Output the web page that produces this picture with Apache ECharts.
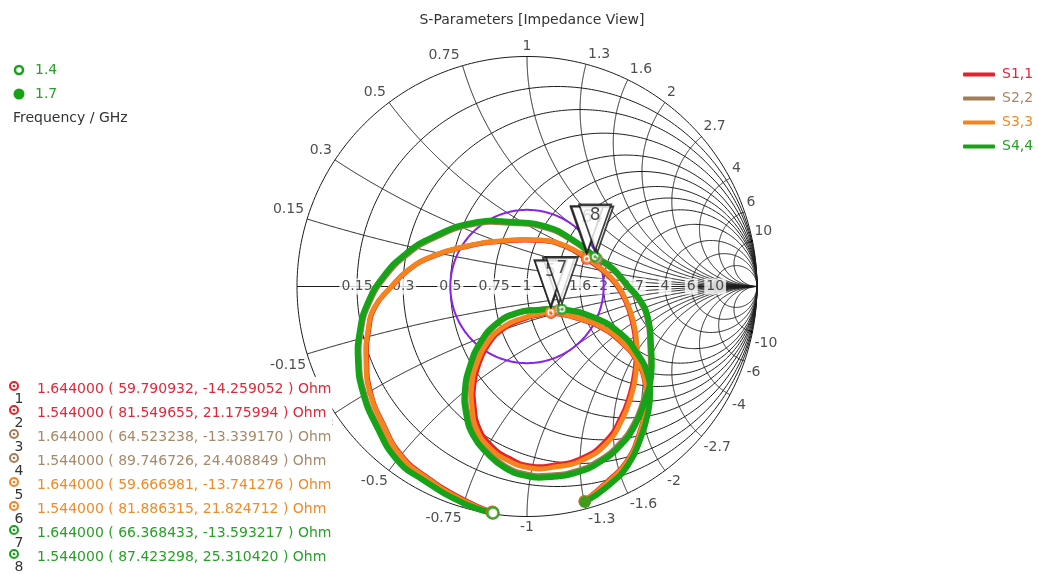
<!DOCTYPE html>
<html>
<head>
<meta charset="utf-8">
<script src="https://cdn.jsdelivr.net/npm/echarts/dist/echarts.min.js"></script>
<style>
  html, body { margin: 0; padding: 0; background: #ffffff; }
  #chart { width: 1038px; height: 574px; }
</style>
</head>
<body>
<div id="chart"></div>
<script>
// ---- Smith chart of port reflections, 1.4 – 1.7 GHz ----
const FONT = 'DejaVu Sans';
const Z0 = 50;

const SERIES_NAMES = ['S1,1', 'S2,2', 'S3,3', 'S4,4'];
const SERIES_COLORS = ['#e8202a', '#a57d55', '#f5841f', '#17a317'];
const TEXT_COLORS = ['#e0283a', '#a88868', '#f08a2a', '#28a028'];
const TRACE_WIDTHS = [5, 6, 5, 6];

// normalised resistance circles and reactance arcs of the chart grid
const R_CIRCLES = [0.15, 0.3, 0.5, 0.75, 1, 1.3, 1.6, 2, 2.7, 4, 6, 10];
const X_ARCS = [0.15, 0.3, 0.5, 0.75, 1, 1.3, 1.6, 2, 2.7, 4, 6, 10];
const VSWR = 2;

const FREQ_START = 1.4;   // GHz, first sample (open dot)
const FREQ_END = 1.7;     // GHz, last sample (filled dot)

// reflection coefficients (real / imaginary), sweep 1.4 -> 1.7 GHz
const S11_RE = [-0.151,-0.280,-0.441,-0.546,-0.624,-0.680,-0.697,-0.688,-0.662,-0.594,-0.515,-0.407,-0.259,-0.116,0.057,0.168,0.259,0.327,0.384,0.427,0.457,0.473,0.469,0.446,0.407,0.342,0.240,0.120,0.013,-0.080,-0.157,-0.208,-0.230,-0.230,-0.208,-0.166,-0.098,-0.014,0.053,0.104,0.220,0.328,0.415,0.476,0.511,0.515,0.489,0.433,0.346,0.250];
const S11_IM = [-0.982,-0.925,-0.825,-0.734,-0.600,-0.461,-0.318,-0.188,-0.092,-0.006,0.072,0.132,0.175,0.196,0.200,0.174,0.119,0.070,0.013,-0.060,-0.147,-0.254,-0.370,-0.476,-0.574,-0.673,-0.746,-0.776,-0.780,-0.746,-0.690,-0.618,-0.520,-0.418,-0.333,-0.248,-0.180,-0.141,-0.123,-0.116,-0.139,-0.182,-0.248,-0.321,-0.408,-0.515,-0.636,-0.761,-0.851,-0.933];

const S22_RE = [-0.149,-0.279,-0.450,-0.562,-0.648,-0.709,-0.731,-0.722,-0.692,-0.622,-0.519,-0.407,-0.234,-0.061,0.086,0.200,0.306,0.372,0.436,0.490,0.524,0.536,0.535,0.509,0.466,0.400,0.314,0.220,0.099,0.000,-0.094,-0.170,-0.230,-0.260,-0.265,-0.243,-0.200,-0.127,-0.041,0.046,0.139,0.282,0.400,0.475,0.519,0.532,0.523,0.493,0.436,0.350,0.251];
const S22_IM = [-0.984,-0.939,-0.839,-0.751,-0.609,-0.462,-0.320,-0.190,-0.082,0.038,0.142,0.211,0.272,0.276,0.255,0.199,0.121,0.075,0.003,-0.062,-0.139,-0.255,-0.397,-0.490,-0.598,-0.688,-0.758,-0.802,-0.822,-0.818,-0.783,-0.719,-0.642,-0.547,-0.448,-0.345,-0.246,-0.160,-0.115,-0.102,-0.100,-0.133,-0.202,-0.288,-0.375,-0.462,-0.549,-0.652,-0.774,-0.865,-0.936];

const S33_RE = [-0.150,-0.283,-0.443,-0.548,-0.626,-0.683,-0.700,-0.691,-0.665,-0.596,-0.517,-0.409,-0.261,-0.117,0.057,0.170,0.262,0.330,0.387,0.430,0.461,0.478,0.474,0.452,0.413,0.348,0.243,0.122,0.013,-0.087,-0.165,-0.217,-0.239,-0.239,-0.217,-0.174,-0.104,-0.017,0.052,0.102,0.222,0.330,0.417,0.478,0.513,0.517,0.491,0.435,0.348,0.250];
const S33_IM = [-0.983,-0.928,-0.828,-0.737,-0.602,-0.463,-0.320,-0.189,-0.093,-0.007,0.072,0.133,0.176,0.198,0.202,0.176,0.122,0.072,0.015,-0.059,-0.146,-0.254,-0.372,-0.480,-0.580,-0.680,-0.754,-0.785,-0.789,-0.754,-0.698,-0.624,-0.524,-0.420,-0.333,-0.246,-0.176,-0.137,-0.120,-0.113,-0.137,-0.180,-0.246,-0.320,-0.407,-0.515,-0.637,-0.763,-0.854,-0.934];

const S44_RE = [-0.148,-0.278,-0.452,-0.565,-0.652,-0.713,-0.735,-0.726,-0.696,-0.626,-0.522,-0.409,-0.235,-0.061,0.087,0.200,0.296,0.370,0.435,0.491,0.526,0.539,0.539,0.513,0.470,0.404,0.317,0.222,0.100,0.000,-0.096,-0.174,-0.235,-0.265,-0.270,-0.248,-0.204,-0.130,-0.043,0.048,0.152,0.287,0.404,0.478,0.522,0.535,0.526,0.496,0.439,0.352,0.252];
const S44_IM = [-0.985,-0.941,-0.841,-0.754,-0.611,-0.463,-0.320,-0.189,-0.080,0.041,0.146,0.215,0.276,0.280,0.259,0.202,0.130,0.080,0.007,-0.059,-0.137,-0.254,-0.398,-0.493,-0.602,-0.693,-0.763,-0.807,-0.828,-0.824,-0.789,-0.724,-0.646,-0.550,-0.450,-0.346,-0.246,-0.159,-0.115,-0.102,-0.099,-0.133,-0.202,-0.289,-0.376,-0.463,-0.550,-0.654,-0.776,-0.867,-0.937];

const CURVES_RE = [S11_RE, S22_RE, S33_RE, S44_RE];
const CURVES_IM = [S11_IM, S22_IM, S33_IM, S44_IM];

// markers: number, owning trace, frequency (GHz), impedance R + jX (Ohm)
const MARKER_NO = [1, 2, 3, 4, 5, 6, 7, 8];
const MARKER_TRACE = [0, 0, 1, 1, 2, 2, 3, 3];
const MARKER_FREQ = [1.644, 1.544, 1.644, 1.544, 1.644, 1.544, 1.644, 1.544];
const MARKER_R = [59.790932, 81.549655, 64.523238, 89.746726, 59.666981, 81.886315, 66.368433, 87.423298];
const MARKER_X = [-14.259052, 21.175994, -13.339170, 24.408849, -13.741276, 21.824712, -13.593217, 25.310420];

// ---------- helpers ----------
// normalised impedance r + jx -> reflection coefficient
function gammaOf(r, x) {
  const d = (r + 1) * (r + 1) + x * x;
  return [(r * r + x * x - 1) / d, (2 * x) / d];
}
function circlePts(cx, cy, rad) {
  const pts = [];
  for (let k = 0; k <= 360; k++) {
    const a = (k / 360) * Math.PI * 2;
    pts.push([cx + rad * Math.cos(a), cy + rad * Math.sin(a)]);
  }
  return pts;
}
function reactancePts(x) {
  const pts = [];
  const N = 500;
  for (let k = 0; k < N; k++) {
    const t = k / N;
    pts.push(gammaOf(t / (1 - t), x));
  }
  pts.push([1, 0]);
  return pts;
}
function markerGamma(i) {
  return gammaOf(MARKER_R[i] / Z0, MARKER_X[i] / Z0);
}

// ---------- grid geometry ----------
const gridLines = [];
gridLines.push({ coords: circlePts(0, 0, 1) });
gridLines.push({ coords: [[-1, 0], [1, 0]] });
R_CIRCLES.forEach(r => gridLines.push({ coords: circlePts(r / (1 + r), 0, 1 / (1 + r)) }));
X_ARCS.forEach(x => {
  gridLines.push({ coords: reactancePts(x) });
  gridLines.push({ coords: reactancePts(-x) });
});

const labelBase = { show: true, color: '#222', fontFamily: FONT, fontSize: 14 };

const rLabelData = R_CIRCLES.map(r => ({
  value: gammaOf(r, 0),
  label: Object.assign({}, labelBase, {
    formatter: String(r), position: 'inside', align: 'center', verticalAlign: 'middle',
    backgroundColor: '#ffffff', padding: [1, 2]
  })
}));

const xLabelData = [];
X_ARCS.forEach(x => {
  [x, -x].forEach(xv => {
    const g = gammaOf(0, xv);
    let align = 'center', dx = 0;
    if (g[0] < -0.01) { align = 'right'; dx = xv > 0 ? -3 : -1; }
    else if (g[0] > 0.01) { align = 'left'; dx = 2; }
    xLabelData.push({
      value: g,
      label: Object.assign({}, labelBase, {
        formatter: String(xv), position: 'inside', align: align,
        verticalAlign: xv > 0 ? 'bottom' : 'top',
        offset: [dx, xv > 0 ? -3 : 4]
      })
    });
  });
});

const vswrRad = (VSWR - 1) / (VSWR + 1);

const series = [];
series.push({
  type: 'lines', coordinateSystem: 'cartesian2d', polyline: true, silent: true,
  data: gridLines, lineStyle: { color: '#1c1c1c', width: 1, opacity: 1 }, z: 1
});
series.push({
  type: 'scatter', name: 'r-labels', symbolSize: 0, silent: true, data: rLabelData, z: 2
});
series.push({
  type: 'scatter', name: 'x-labels', symbolSize: 0, silent: true, data: xLabelData, z: 2
});
series.push({
  type: 'lines', coordinateSystem: 'cartesian2d', polyline: true, silent: true,
  data: [{ coords: circlePts(0, 0, vswrRad) }],
  lineStyle: { color: '#8a22e6', width: 2, opacity: 1 }, z: 3
});
// each trace: one smooth path through its samples, placed by the cartesian axes
SERIES_NAMES.forEach((name, s) => {
  const pts = CURVES_RE[s].map((re, k) => [re, CURVES_IM[s][k]]);
  series.push({
    type: 'custom', name: name, coordinateSystem: 'cartesian2d', silent: true,
    itemStyle: { color: SERIES_COLORS[s] },
    data: [pts[0]],
    renderItem: (params, api) => ({
      type: 'polyline',
      shape: { points: pts.map(p => api.coord(p)), smooth: 0.5 },
      style: { stroke: SERIES_COLORS[s], lineWidth: TRACE_WIDTHS[s], fill: null, lineJoin: 'round', lineCap: 'round' }
    }),
    z: 4 + s * 0.01
  });
});
// sweep start (open) and stop (filled) dots
SERIES_NAMES.forEach((name, s) => {
  const n = CURVES_RE[s].length;
  series.push({
    type: 'scatter', name: name + ' ends', silent: true, z: 5 + s * 0.01,
    data: [
      { value: [CURVES_RE[s][0], CURVES_IM[s][0]], symbolSize: 11,
        itemStyle: { color: '#ffffff', borderColor: SERIES_COLORS[s], borderWidth: 2.5 } },
      { value: [CURVES_RE[s][n - 1], CURVES_IM[s][n - 1]], symbolSize: 12,
        itemStyle: { color: SERIES_COLORS[s] } }
    ]
  });
});
// marker rings
series.push({
  type: 'scatter', name: 'marker rings', silent: true, z: 6,
  data: MARKER_NO.map((no, i) => ({
    value: markerGamma(i), symbolSize: 9,
    itemStyle: { color: '#ffffff', borderColor: SERIES_COLORS[MARKER_TRACE[i]], borderWidth: 2.5 }
  }))
});
series.push({
  type: 'scatter', name: 'marker dots', silent: true, z: 6.5, symbolSize: 3,
  data: MARKER_NO.map((no, i) => ({
    value: markerGamma(i), itemStyle: { color: SERIES_COLORS[MARKER_TRACE[i]] }
  }))
});
// numbered flags above the markers, each one stacked over the previous
MARKER_NO.forEach((no, i) => {
  series.push({
    type: 'scatter', name: 'flag ' + no, silent: true, z: 10 + i,
    symbol: 'path://M0,0 L32,0 L16,46 Z', symbolSize: [32, 46], symbolOffset: [0, -29],
    itemStyle: { color: '#ffffff', borderColor: '#111111', borderWidth: 2 },
    label: {
      show: true, position: 'inside', color: '#222', fontFamily: FONT, fontSize: 17,
      offset: [0, -12], formatter: String(no)
    },
    data: [{ value: markerGamma(i) }]
  });
});

// ---------- side texts ----------
const graphics = [];
const green = SERIES_COLORS[3];
graphics.push({ type: 'circle', shape: { cx: 19, cy: 70, r: 4 }, style: { fill: '#fff', stroke: green, lineWidth: 2.5 }, z: 30 });
graphics.push({ type: 'text', x: 35, y: 70, style: { text: String(FREQ_START), fill: TEXT_COLORS[3], font: '14px ' + FONT, verticalAlign: 'middle' }, z: 30 });
graphics.push({ type: 'circle', shape: { cx: 19, cy: 94, r: 5.5 }, style: { fill: green }, z: 30 });
graphics.push({ type: 'text', x: 35, y: 94, style: { text: String(FREQ_END), fill: TEXT_COLORS[3], font: '14px ' + FONT, verticalAlign: 'middle' }, z: 30 });
graphics.push({ type: 'text', x: 13, y: 118, style: { text: 'Frequency / GHz', fill: '#333', font: '14px ' + FONT, verticalAlign: 'middle' }, z: 30 });

MARKER_NO.forEach((no, i) => {
  const y = 389 + 24 * i;
  const c = SERIES_COLORS[MARKER_TRACE[i]];
  const tc = TEXT_COLORS[MARKER_TRACE[i]];
  const txt = MARKER_FREQ[i].toFixed(6) + ' ( ' + MARKER_R[i].toFixed(6) + ', ' + MARKER_X[i].toFixed(6) + ' ) Ohm';
  graphics.push({
    type: 'text', x: 37, y: y,
    style: { text: txt, fill: tc, font: '14px ' + FONT, verticalAlign: 'middle', lineHeight: 24,
             backgroundColor: '#ffffff', padding: [0, 6, 0, 0] },
    z: 30
  });
  graphics.push({ type: 'circle', shape: { cx: 14, cy: y - 3, r: 4 }, style: { fill: '#fff', stroke: c, lineWidth: 2 }, z: 31 });
  graphics.push({ type: 'circle', shape: { cx: 14, cy: y - 3, r: 1.3 }, style: { fill: c }, z: 31 });
  graphics.push({ type: 'text', x: 19, y: y + 10, style: { text: String(no), fill: '#333', font: '14px ' + FONT, align: 'center', verticalAlign: 'middle' }, z: 31 });
});

const chart = echarts.init(document.getElementById('chart'), null, { renderer: 'canvas' });
chart.setOption({
  backgroundColor: '#ffffff',
  animation: false,
  title: {
    text: 'S-Parameters [Impedance View]', left: 527, top: 8, textAlign: 'center',
    textStyle: { fontFamily: FONT, fontSize: 14, fontWeight: 'normal', color: '#333' }
  },
  legend: {
    orient: 'vertical', left: 958, top: 61, itemWidth: 32, itemHeight: 4, itemGap: 7,
    icon: 'roundRect',
    textStyle: { fontFamily: FONT, fontSize: 14, lineHeight: 17, padding: [0, 0, 0, 2] },
    data: SERIES_NAMES.map((n, s) => ({ name: n, textStyle: { color: TEXT_COLORS[s] } }))
  },
  grid: { left: 297, top: 56.5, width: 460, height: 460 },
  xAxis: { type: 'value', min: -1, max: 1, show: false },
  yAxis: { type: 'value', min: -1, max: 1, show: false },
  series: series,
  graphic: graphics
});
</script>
</body>
</html>
